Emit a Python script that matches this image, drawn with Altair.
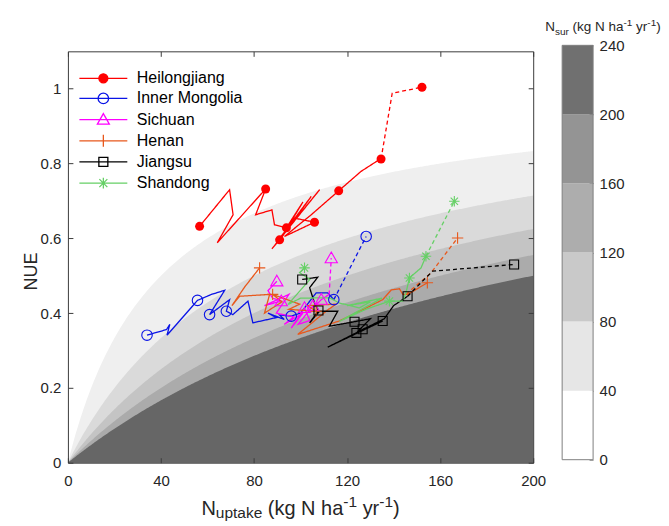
import altair as alt
import numpy as np
import pandas as pd

FONT = "Liberation Sans"
TXT = "#262626"
AXC = "#3c3c3c"

provinces = ["Heilongjiang", "Inner Mongolia", "Sichuan", "Henan", "Jiangsu", "Shandong"]
line_colors = ["#ff0000", "#0a14e6", "#ff00ff", "#e8581c", "#000000", "#66d066"]

# ---- historical trajectories (N uptake, NUE) ----
hlj_x = [56.6, 69.5, 71.0, 64.2, 85.0, 80.7, 87.7, 88.8, 93.9, 101.0, 91.7, 104.6, 89.6, 108.2,
         87.7, 91.0, 97.4, 106.0, 93.1, 104.6, 116.4, 126.0, 132.5, 134.6]
hlj_y = [0.632, 0.730, 0.663, 0.588, 0.732, 0.663, 0.676, 0.636, 0.628, 0.697, 0.601, 0.712, 0.588, 0.730,
         0.572, 0.596, 0.654, 0.643, 0.605, 0.663, 0.727, 0.779, 0.805, 0.812]
hlj_mk = [0, 4, 8, 15, 17, 20, 23]
hlj_px = [134.6, 139.4, 152.2]
hlj_py = [0.812, 0.988, 1.004]

im_x = [34.0, 42.4, 43.8, 42.6, 55.7, 61.7, 67.4, 60.9, 69.5, 68.1, 70.9, 77.4, 79.5, 89.6, 86.0,
        93.0, 91.0, 96.0, 100.0, 106.7, 111.7, 114.3]
im_y = [0.341, 0.356, 0.370, 0.341, 0.434, 0.450, 0.461, 0.396, 0.436, 0.405, 0.396, 0.432, 0.374, 0.388, 0.400,
        0.383, 0.395, 0.392, 0.400, 0.454, 0.454, 0.436]
im_mk = [0, 4, 7, 9, 17, 21]
im_px = [114.3, 128.2]
im_py = [0.436, 0.605]

sc_x = [89.8, 86.0, 88.0, 91.7, 84.5, 95.0, 89.6, 97.0, 93.0, 101.0, 96.0, 101.7, 104.0, 99.0,
        105.3, 103.9, 108.0, 108.9, 112.3]
sc_y = [0.485, 0.460, 0.440, 0.432, 0.420, 0.450, 0.400, 0.390, 0.370, 0.400, 0.360, 0.414, 0.380, 0.370,
        0.419, 0.410, 0.430, 0.436, 0.450]
sc_mk = [0, 3, 11, 14, 17]
sc_px = [112.3, 113.2]
sc_py = [0.450, 0.547]

hn_x = [82.4, 76.0, 70.5, 73.8, 86.7, 84.5, 92.0, 88.0, 99.6, 95.0, 106.7, 103.0, 115.3, 112.0,
        98.8, 116.7, 127.0, 135.3, 139.0, 142.5, 144.0, 146.0, 154.5]
hn_y = [0.521, 0.470, 0.420, 0.445, 0.450, 0.400, 0.430, 0.450, 0.424, 0.410, 0.405, 0.420, 0.424, 0.410,
        0.343, 0.379, 0.410, 0.436, 0.462, 0.465, 0.450, 0.450, 0.481]
hn_mk = [0, 7, 10, 22]
hn_px = [145.3, 156.0, 167.5]
hn_py = [0.450, 0.507, 0.601]

js_x = [100.7, 107.4, 103.9, 106.0, 107.7, 103.9, 108.2, 116.0, 112.4, 123.2, 130.0, 124.0, 132.0, 126.7,
        135.3, 111.7, 129.6, 136.0, 140.0, 146.0]
js_y = [0.490, 0.496, 0.468, 0.427, 0.407, 0.374, 0.405, 0.405, 0.365, 0.377, 0.385, 0.347, 0.370, 0.357,
        0.379, 0.309, 0.365, 0.385, 0.420, 0.445]
js_mk = [0, 4, 9, 11, 13, 14, 19]
js_px = [146.0, 156.7, 191.8]
js_py = [0.445, 0.512, 0.530]

sd_x = [101.7, 99.6, 104.0, 94.6, 100.0, 112.4, 116.7, 125.3, 130.0, 120.0, 135.0, 116.7, 128.0, 138.2,
        143.9, 145.3, 146.8, 151.8, 153.9]
sd_y = [0.521, 0.508, 0.490, 0.423, 0.440, 0.441, 0.427, 0.414, 0.430, 0.420, 0.440, 0.378, 0.410, 0.432,
        0.432, 0.454, 0.494, 0.521, 0.552]
sd_mk = [0, 13, 16, 18]
sd_px = [153.9, 166.1]
sd_py = [0.552, 0.699]

x_ticks = [0, 40, 80, 120, 160, 200]
y_ticks = [0, 0.2, 0.4, 0.6, 0.8, 1.0]
nsur_levels = [40, 80, 120, 160, 200]
band_colors = ["#efefef", "#dadada", "#c4c4c4", "#ababab", "#666666"]
cbar_edges = [0, 40, 80, 120, 160, 200, 240]
cbar_colors = ["#ffffff", "#e6e6e6", "#c9c9c9", "#adadad", "#949494", "#707070"]

# rich-text titles: (text, font size, baseline shift)
x_title_parts = [("N", 20, 0), ("uptake", 15.5, 3.5), (" (kg N ha", 20, 0), ("-1", 15.5, -8),
                 (" yr", 20, 0), ("-1", 15.5, -8), (")", 20, 0)]
cb_title_parts = [("N", 13.5, 0), ("sur", 10, 3.5), (" (kg N ha", 13.5, 0), ("-1", 10, -5.5),
                  (" yr", 13.5, 0), ("-1", 10, -5.5), (")", 13.5, 0)]

# Arial / Liberation Sans advance widths (per 1000 em)
AW = {"N": 722, " ": 278, "(": 333, ")": 333, "k": 500, "g": 556, "h": 556, "a": 556, "y": 500,
      "r": 333, "u": 556, "p": 556, "t": 278, "e": 556, "s": 500, "1": 556, "-": 333}


def text_width(s, size):
    return sum(AW.get(c, 556) for c in s) * size / 1000.0


def rich_text(parts, x0, y0):
    layers = []
    x = x0
    for txt, size, dy in parts:
        lead = len(txt) - len(txt.lstrip(" "))
        x += text_width(" " * lead, size)
        body = txt.strip(" ")
        layers.append(
            alt.Chart(pd.DataFrame({"t": [body]})).mark_text(
                align="left", baseline="alphabetic", font=FONT, fontSize=size, color=TXT
            ).encode(x=alt.value(x), y=alt.value(y0 + dy), text="t:N")
        )
        x += text_width(body, size)
    return layers


def rich_width(parts):
    return sum(text_width(t, s) for t, s, _ in parts)


series = [
    (provinces[0], hlj_x, hlj_y, hlj_mk, hlj_px, hlj_py),
    (provinces[1], im_x, im_y, im_mk, im_px, im_py),
    (provinces[2], sc_x, sc_y, sc_mk, sc_px, sc_py),
    (provinces[3], hn_x, hn_y, hn_mk, hn_px, hn_py),
    (provinces[4], js_x, js_y, js_mk, js_px, js_py),
    (provinces[5], sd_x, sd_y, sd_mk, sd_px, sd_py),
]
rows = []
for name, xs, ys, mk, pxs, pys in series:
    for i, (a, b) in enumerate(zip(xs, ys)):
        rows.append(dict(province=name, seg="hist", key=name + "h", order=i, x=a, y=b, marker=i in mk))
    for j, (a, b) in enumerate(zip(pxs, pys)):
        rows.append(dict(province=name, seg="proj", key=name + "p", order=j, x=a, y=b,
                         marker=(j == len(pxs) - 1)))
df = pd.DataFrame(rows)

W, H = 466, 412
xscale = alt.Scale(domain=[0, 200], nice=False, zero=False)
yscale = alt.Scale(domain=[0, 1.1], nice=False, zero=False)

# ---- background Nsur bands: NUE = U / (U + Nsur) ----
u = np.linspace(0, 200, 401)
band_layers = []
for lev, col in zip(nsur_levels, band_colors):
    bdf = pd.DataFrame({"u": u, "top": u / (u + lev), "bot": 0.0})
    band_layers.append(
        alt.Chart(bdf).mark_area(color=col, opacity=1, strokeWidth=0).encode(
            x=alt.X("u:Q", scale=xscale, axis=None),
            y=alt.Y("top:Q", scale=yscale, axis=None),
            y2="bot:Q",
        )
    )

ax_df = pd.DataFrame({"x": [0, 200], "y": [0, 1.1]})


def axis_layer(xaxis, yaxis):
    return alt.Chart(ax_df).mark_point(opacity=0, size=1).encode(
        x=alt.X("x:Q", scale=xscale, axis=xaxis),
        y=alt.Y("y:Q", scale=yscale, axis=yaxis),
    )


common = dict(grid=False, zindex=2, tickColor=AXC, domainColor=AXC, labelColor=TXT, titleColor=TXT,
              labelFont=FONT, titleFont=FONT, titleFontWeight="normal", labelFlush=False)
ax1 = axis_layer(
    alt.Axis(orient="bottom", values=x_ticks, offset=-5, tickSize=5, domain=False, labelPadding=11,
             labelFontSize=15, title=None, **common),
    alt.Axis(orient="left", values=y_ticks, format="~g", offset=-5, tickSize=5, domain=False, labelPadding=7,
             labelFontSize=15, title="NUE", titleFontSize=18, titleBaseline="alphabetic",
             titleAlign="center", titleX=-36, titleY=H / 2 + 14, titleAngle=270, **common),
)
ax2 = axis_layer(
    alt.Axis(orient="bottom", domain=True, ticks=False, labels=False, title=None, **common),
    alt.Axis(orient="left", domain=True, ticks=False, labels=False, title=None, **common),
)
ax3 = axis_layer(
    alt.Axis(orient="top", domain=True, ticks=False, labels=False, title=None, **common),
    alt.Axis(orient="right", domain=True, ticks=False, labels=False, title=None, **common),
)
ax4 = axis_layer(
    alt.Axis(orient="top", values=x_ticks, offset=-5, tickSize=5, domain=False, labels=False, title=None, **common),
    alt.Axis(orient="right", values=y_ticks, offset=-5, tickSize=5, domain=False, labels=False, title=None, **common),
)

lines = alt.Chart(df).mark_line(strokeWidth=1.3).encode(
    x=alt.X("x:Q", scale=xscale, axis=None),
    y=alt.Y("y:Q", scale=yscale, axis=None),
    color=alt.Color("province:N", scale=alt.Scale(domain=provinces, range=line_colors), legend=None),
    strokeDash=alt.StrokeDash("seg:N", scale=alt.Scale(domain=["hist", "proj"], range=[[1, 0], [4, 3]]),
                              legend=None),
    detail="key:N",
    order="order:Q",
)

PLUS = "M-1,0L1,0M0,-1L0,1"
AST = "M-1,0L1,0M0,-1L0,1M-0.7,-0.7L0.7,0.7M-0.7,0.7L0.7,-0.7"
TRI = "M0,-1L1,0.75L-1,0.75Z"
marker_specs = [
    ("circle", True, 81),
    ("circle", False, 110),
    (TRI, False, 150),
    (PLUS, False, 130),
    ("square", False, 81),
    (AST, False, 110),
]
marker_layers = []
for name, col, (shp, filled, sz) in zip(provinces, line_colors, marker_specs):
    marker_layers.append(
        alt.Chart(df).transform_filter(
            (alt.datum.province == name) & (alt.datum.marker == True)
        ).mark_point(shape=shp, filled=filled, size=sz, color=col, strokeWidth=1.1, opacity=1).encode(
            x=alt.X("x:Q", scale=xscale, axis=None),
            y=alt.Y("y:Q", scale=yscale, axis=None),
        )
    )

# ---- legend (line + marker symbols), unit = 5 px ----
LINE = "M-4.8,0L4.8,0"
leg_paths = [
    LINE + "M0.9,0A0.9,0.9,0,1,1,-0.9,0A0.9,0.9,0,1,1,0.9,0Z",
    LINE + "M1.05,0A1.05,1.05,0,1,1,-1.05,0A1.05,1.05,0,1,1,1.05,0Z",
    LINE + "M0,-1.2L1.2,0.9L-1.2,0.9Z",
    LINE + "M0,-1.2L0,1.2",
    LINE + "M-0.9,-0.9L0.9,-0.9L0.9,0.9L-0.9,0.9Z",
    LINE + "M0,-1.1L0,1.1M-0.8,-0.8L0.8,0.8M-0.8,0.8L0.8,-0.8",
]
leg_fills = ["#ff0000", "transparent", "transparent", "transparent", "transparent", "transparent"]


def mk_legend():
    return alt.Legend(title=None, orient="top-left", offset=18.5, padding=0, symbolSize=100,
                      symbolStrokeWidth=1.3, symbolOffset=8.5, labelOffset=25.5, rowPadding=4.2,
                      labelFontSize=16, labelFont=FONT, labelColor="#000000")


leg_df = pd.DataFrame({"province": provinces, "x": [-500.0] * 6, "y": [-5.0] * 6})
legend_layer = alt.Chart(leg_df).mark_point(size=100, opacity=1, clip=True).encode(
    x=alt.X("x:Q", scale=xscale, axis=None),
    y=alt.Y("y:Q", scale=yscale, axis=None),
    shape=alt.Shape("province:N", scale=alt.Scale(domain=provinces, range=leg_paths), legend=mk_legend()),
    stroke=alt.Stroke("province:N", scale=alt.Scale(domain=provinces, range=line_colors), legend=mk_legend()),
    fill=alt.Fill("province:N", scale=alt.Scale(domain=provinces, range=leg_fills), legend=mk_legend()),
)

xt_layers = rich_text(x_title_parts, W / 2 - rich_width(x_title_parts) / 2, H + 52)

main = alt.layer(
    *band_layers, ax1, ax2, ax3, ax4, lines, *marker_layers, legend_layer, *xt_layers
).resolve_axis(x="independent", y="independent").properties(width=W, height=H)

# ---- colorbar ----
CBW = 31
cb_scale = alt.Scale(domain=[0, 240], range=[409, -6], nice=False, zero=False)
cb_layers = []
for i, col in enumerate(cbar_colors):
    cdf = pd.DataFrame({"lo": [cbar_edges[i]], "hi": [cbar_edges[i + 1]], "x0": [0], "x1": [1]})
    cb_layers.append(
        alt.Chart(cdf).mark_rect(color=col, strokeWidth=0).encode(
            x=alt.X("x0:Q", scale=alt.Scale(domain=[0, 1]), axis=None),
            x2="x1:Q",
            y=alt.Y("lo:Q", scale=cb_scale, axis=None),
            y2="hi:Q",
        )
    )
bdf = pd.DataFrame({"lo": [0], "hi": [240], "x0": [0], "x1": [1]})
cb_layers.append(
    alt.Chart(bdf).mark_rect(fillOpacity=0, stroke="#7f7f7f", strokeWidth=1).encode(
        x=alt.X("x0:Q", scale=alt.Scale(domain=[0, 1]), axis=None),
        x2="x1:Q",
        y=alt.Y("lo:Q", scale=cb_scale,
                axis=alt.Axis(orient="right", values=cbar_edges, offset=-4, tickSize=4, domain=False,
                              labelPadding=6, labelFontSize=15, title=None, grid=False, tickColor="#7f7f7f",
                              labelColor=TXT, labelFont=FONT, labelFlush=False)),
        y2="hi:Q",
    )
)
cb_layers += rich_text(cb_title_parts, -17, -20)
colorbar = alt.layer(*cb_layers).resolve_axis(y="independent").properties(width=CBW, height=H)

chart = alt.hconcat(main, colorbar, spacing=29, bounds="flush").resolve_legend(
    shape="independent", stroke="independent", fill="independent"
).properties(padding={"left": 15, "top": 9, "right": 0, "bottom": 0}).configure_view(strokeWidth=0)

chart.save("out.html", embed_options={"renderer": "svg", "actions": False})
